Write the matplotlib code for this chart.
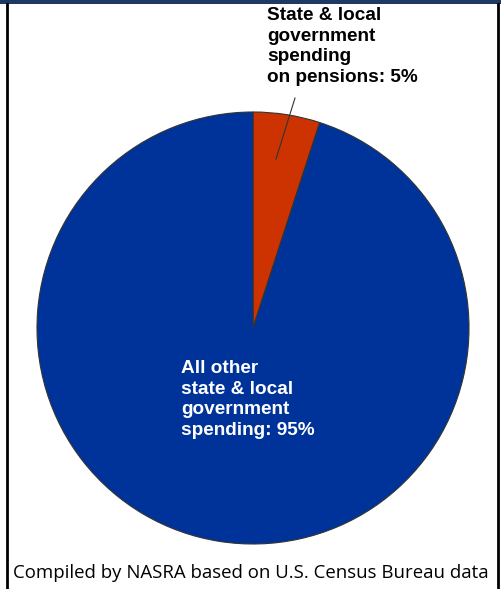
import matplotlib.pyplot as plt
from matplotlib.patches import Rectangle

# Share of state & local government spending
labels = ['State & local\ngovernment\nspending\non pensions: 5%',
          'All other\nstate & local\ngovernment\nspending: 95%']
shares = [5, 95]
colors = ['#CC3300', '#003399']

W, H = 502, 589
fig = plt.figure(figsize=(W / 100, H / 100), dpi=100)
fig.patch.set_facecolor('white')

# pie axes, placed in pixel terms (centre ~ (253, 328), radius ~216)
cx, cy, r = 253, 328, 216
ax = fig.add_axes([(cx - r) / W, 1 - (cy + r) / H, 2 * r / W, 2 * r / H])
wedges, _ = ax.pie(shares, colors=colors, startangle=90, counterclock=False,
                   wedgeprops=dict(edgecolor='#333333', linewidth=0.8))
ax.set_aspect('equal')
ax.set_xlim(-1, 1)
ax.set_ylim(-1, 1)

# leader line from the pensions label to its wedge
fig.add_artist(plt.Line2D([295 / W, 276 / W], [1 - 98 / H, 1 - 159 / H],
                          color='#333333', lw=0.8))

fig.text(267 / W, 1 - 7 / H, labels[0], ha='left', va='top', fontsize=13.7,
         fontweight='bold', family='Liberation Sans', color='black',
         linespacing=1.27)
fig.text(181 / W, 1 - 360 / H, labels[1], ha='left', va='top', fontsize=13.7,
         fontweight='bold', family='Liberation Sans', color='white',
         linespacing=1.27)

# footer
fig.text(251 / W, 1 - 573 / H, 'Compiled by NASRA based on U.S. Census Bureau data',
         ha='center', va='center', fontsize=13.4, family='Open Sans', color='black')

# frame and cropped title band
fig.add_artist(Rectangle((0, 1 - 4 / H), 1, 4 / H, transform=fig.transFigure,
                         facecolor='#1F3864', edgecolor='none'))
fig.add_artist(plt.Line2D([6.5 / W, 6.5 / W], [0, 1 - 4 / H], color='black', lw=2))
fig.add_artist(plt.Line2D([498.5 / W, 498.5 / W], [0, 1 - 4 / H], color='black', lw=2))

fig.savefig('out.png', dpi=100)
